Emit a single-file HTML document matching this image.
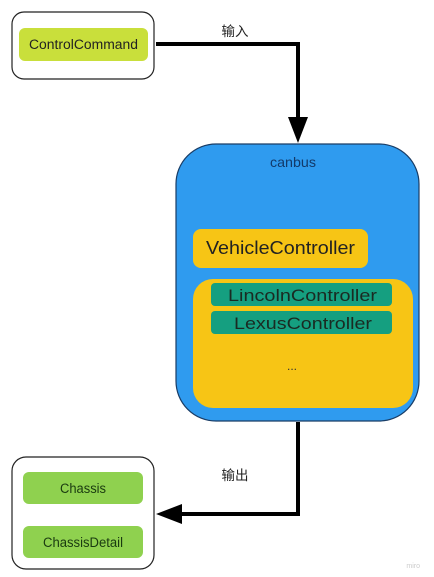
<!DOCTYPE html>
<html><head><meta charset="utf-8"><style>
html,body{margin:0;padding:0;background:#fff;width:434px;height:577px;overflow:hidden}
svg text{font-family:"Liberation Sans","Noto Sans CJK SC",sans-serif}
</style></head><body>
<svg width="434" height="577" viewBox="0 0 434 577" xmlns="http://www.w3.org/2000/svg">
<rect x="12" y="12" width="142" height="67" rx="12" fill="#fff" stroke="#222" stroke-width="1.2"/>
<rect x="19" y="28" width="129" height="33" rx="6" fill="#c9df3b"/>
<text x="29" y="49" font-size="13.5" textLength="109" lengthAdjust="spacingAndGlyphs" fill="#222">ControlCommand</text>
<polyline points="156,44 298,44 298,120" fill="none" stroke="#000" stroke-width="4"/>
<polygon points="288,117 308,117 298,143" fill="#000"/>
<text x="235" y="36" font-size="13.5" text-anchor="middle" fill="#222">输入</text>
<rect x="176" y="144" width="243" height="277" rx="40" fill="#2f9bef" stroke="#1a3d66" stroke-width="1.2"/>
<text x="270" y="167" font-size="14" textLength="46" lengthAdjust="spacingAndGlyphs" fill="#123a6a">canbus</text>
<rect x="193" y="229" width="175" height="39" rx="8" fill="#f7c515"/>
<text x="206" y="254" font-size="18" textLength="149" lengthAdjust="spacingAndGlyphs" fill="#222">VehicleController</text>
<rect x="193" y="279" width="220" height="129" rx="20" fill="#f7c515"/>
<rect x="211" y="283" width="181" height="23" rx="4" fill="#159f80"/>
<text x="228" y="301" font-size="17" textLength="149" lengthAdjust="spacingAndGlyphs" fill="#1a2a22">LincolnController</text>
<rect x="211" y="311" width="181" height="23" rx="4" fill="#159f80"/>
<text x="234" y="329" font-size="17" textLength="138" lengthAdjust="spacingAndGlyphs" fill="#1a2a22">LexusController</text>
<text x="292" y="370" font-size="12" text-anchor="middle" fill="#333">...</text>
<polyline points="298,422 298,514 180,514" fill="none" stroke="#000" stroke-width="4"/>
<polygon points="182,504 182,524 156,514" fill="#000"/>
<text x="235" y="480" font-size="13.5" text-anchor="middle" fill="#222">输出</text>
<rect x="12" y="457" width="142" height="112" rx="14" fill="#fff" stroke="#222" stroke-width="1.2"/>
<rect x="23" y="472" width="120" height="32" rx="6" fill="#8fd14f"/>
<text x="60" y="493" font-size="13.5" textLength="46" lengthAdjust="spacingAndGlyphs" fill="#1a3a10">Chassis</text>
<rect x="23" y="526" width="120" height="32" rx="6" fill="#8fd14f"/>
<text x="43" y="547" font-size="13.5" textLength="80" lengthAdjust="spacingAndGlyphs" fill="#1a3a10">ChassisDetail</text>
<text x="420" y="568" font-size="7" text-anchor="end" fill="#ccc">miro</text>
</svg>
</body></html>
